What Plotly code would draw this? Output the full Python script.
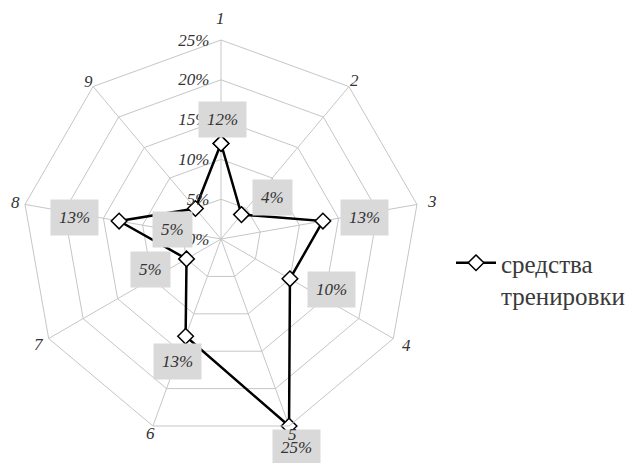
import math
import plotly.graph_objects as go

categories = ["1", "2", "3", "4", "5", "6", "7", "8", "9"]
values = [12, 4, 13, 10, 25, 13, 5, 13, 5]
value_labels = ["12%", "4%", "13%", "10%", "25%", "13%", "5%", "13%", "5%"]
series_name = "средства<br>тренировки"
radial_ticks = [0, 5, 10, 15, 20, 25]
radial_ticktext = ["0%", "5%", "10%", "15%", "20%", "25%"]

# label box offsets from their point (pixels, x right / y up)
label_shift = [(2, 24), (31, 17), (42, 4), (42, -11), (7, -22), (-8, -25), (-36, -11), (-45, 4), (-23, -21)]
# extra distance of category labels beyond the outer ring (pixels)
cat_pad = [22, 8, 15, 15, 9, 8, 11, 10, 7]

W, H = 630, 463
CX, CY, R = 221, 239, 199  # centre and radius in px (from top-left)
dom_x = [(CX - R) / W, (CX + R) / W]
dom_y = [(H - CY - R) / H, (H - CY + R) / H]

GRID = "#c6c6c6"
TXT = "#333333"
SERIF = "Liberation Serif"
NB = "\u00a0"

fig = go.Figure()
fig.add_trace(go.Scatterpolar(
    r=values + values[:1],
    theta=categories + categories[:1],
    mode="lines+markers",
    name=series_name,
    line=dict(color="black", width=2.5),
    marker=dict(symbol="diamond", size=12, color="white",
                line=dict(color="black", width=1.5)),
))

rmax = 25
anns = []
n = len(categories)
for i, (v, t) in enumerate(zip(values, value_labels)):
    ang = 2 * math.pi * i / n
    px = CX + R * v / rmax * math.sin(ang)
    py = CY - R * v / rmax * math.cos(ang)
    dx, dy = label_shift[i]
    anns.append(dict(
        x=px / W, y=1 - py / H, xref="paper", yref="paper",
        xshift=dx, yshift=dy, text=t, showarrow=False,
        font=dict(family=SERIF, size=17, color=TXT, style="italic"),
        bgcolor="#d9d9d9", borderpad=8,
        xanchor="center", yanchor="middle",
    ))
# category labels (drawn after the boxes so they stay on top)
for i, c in enumerate(categories):
    ang = 2 * math.pi * i / n
    rr = R + cat_pad[i]
    px = CX + rr * math.sin(ang)
    py = CY - rr * math.cos(ang)
    anns.append(dict(
        x=px / W, y=1 - py / H, xref="paper", yref="paper",
        text=c, showarrow=False,
        font=dict(family=SERIF, size=17, color=TXT, style="italic"),
        xanchor="center", yanchor="middle",
    ))

fig.update_layout(
    width=W, height=H,
    margin=dict(l=0, r=0, t=0, b=0),
    paper_bgcolor="white",
    plot_bgcolor="white",
    showlegend=True,
    legend=dict(x=451 / W, y=1 - 240 / H, xanchor="left", yanchor="top",
                valign="top", itemwidth=40,
                font=dict(family=SERIF, size=25, color="#3a3a3a"),
                bgcolor="rgba(0,0,0,0)"),
    polar=dict(
        domain=dict(x=dom_x, y=dom_y),
        bgcolor="white",
        gridshape="linear",
        angularaxis=dict(
            type="category",
            categoryarray=categories,
            rotation=90, direction="clockwise",
            showline=True, linecolor=GRID, linewidth=1,
            gridcolor=GRID, gridwidth=1,
            ticks="", showticklabels=False,
        ),
        radialaxis=dict(
            range=[0, rmax],
            tickvals=radial_ticks,
            ticktext=[t + NB * 2 for t in radial_ticktext],
            angle=90, side="counterclockwise", tickangle=90,
            showline=False, ticks="",
            gridcolor=GRID, gridwidth=1,
            tickfont=dict(family=SERIF, size=17, color=TXT, style="italic"),
        ),
    ),
    annotations=anns,
)

fig.write_html("out.html")
